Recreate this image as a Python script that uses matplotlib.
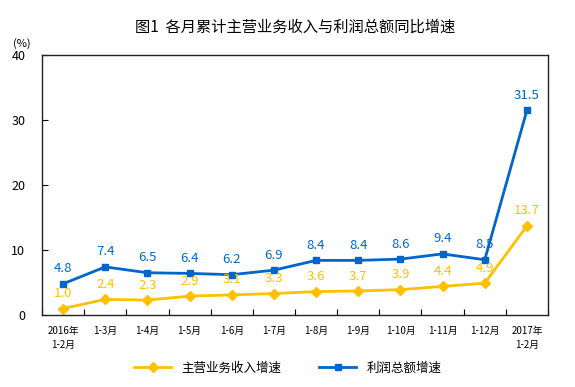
import matplotlib
matplotlib.use("Agg")
import matplotlib.pyplot as plt
import numpy as np

plt.rcParams['font.family'] = ['Noto Sans CJK SC', 'DejaVu Sans']

categories = ["2016年\n1-2月", "1-3月", "1-4月", "1-5月", "1-6月", "1-7月",
              "1-8月", "1-9月", "1-10月", "1-11月", "1-12月", "2017年\n1-2月"]
revenue = [1.0, 2.4, 2.3, 2.9, 3.1, 3.3, 3.6, 3.7, 3.9, 4.4, 4.9, 13.7]
profit = [4.8, 7.4, 6.5, 6.4, 6.2, 6.9, 8.4, 8.4, 8.6, 9.4, 8.5, 31.5]
yticks = [0, 10, 20, 30, 40]

yellow = '#FFC000'
blue = '#0066CC'

fig = plt.figure(figsize=(5.75, 3.87), dpi=100)
ax = fig.add_axes([42 / 575, 1 - 315 / 387, 506 / 575, 260 / 387])

x = np.arange(len(categories))
ax.plot(x, revenue, color=yellow, lw=2, marker='D', ms=5, label='主营业务收入增速')
ax.plot(x, profit, color=blue, lw=2, marker='s', ms=4.5, label='利润总额增速')

for xi, v in zip(x, revenue):
    ax.text(xi, v + 1.3, f"{v:.1f}", color=yellow, ha='center', va='bottom', fontsize=9.5)
for xi, v in zip(x, profit):
    ax.text(xi, v + 1.3, f"{v:.1f}", color=blue, ha='center', va='bottom', fontsize=9.5)

ax.set_xlim(-0.5, len(categories) - 0.5)
ax.set_ylim(0, 40)
ax.set_yticks(yticks)
ax.set_yticklabels([str(t) for t in yticks], fontsize=9)
ax.tick_params(axis='y', direction='in', length=4, pad=12)

ax.set_xticks(np.arange(len(categories) + 1) - 0.5)
ax.set_xticklabels([])
ax.set_xticks(x, minor=True)
ax.set_xticklabels(categories, minor=True, fontsize=7, linespacing=1.5)
ax.tick_params(axis='x', which='major', direction='in', length=4)
ax.tick_params(axis='x', which='minor', length=0, pad=8)

for s in ax.spines.values():
    s.set_linewidth(1)
    s.set_color('#222222')

fig.text(22 / 575, 1 - 44 / 387, '(%)', fontsize=8, ha='center', va='center')
fig.text(295 / 575, 1 - 27 / 387, '图1  各月累计主营业务收入与利润总额同比增速',
         fontsize=11, ha='center', va='center')

fig.legend(loc='center', bbox_to_anchor=(0.5, 1 - 368 / 387), ncol=2, frameon=False,
           fontsize=9, handlelength=3, columnspacing=3)

fig.savefig('out.png', dpi=100)
